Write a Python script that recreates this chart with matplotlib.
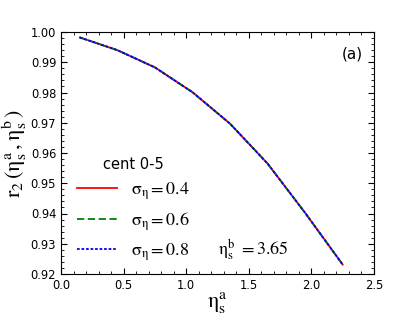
import matplotlib
matplotlib.use("Agg")
import matplotlib.pyplot as plt
from matplotlib.ticker import MultipleLocator

plt.rcParams['mathtext.fontset'] = 'stix'

# eta_s^a bins
eta_a = [0.15, 0.45, 0.75, 1.05, 1.35, 1.65, 1.95, 2.25]
# r2 for three sigma_eta values (curves overlap almost exactly)
r2_s04 = [0.9982, 0.9940, 0.9883, 0.9801, 0.9697, 0.9565, 0.9402, 0.9231]
r2_s06 = [0.9982, 0.9940, 0.9883, 0.9801, 0.9697, 0.9565, 0.9402, 0.9231]
r2_s08 = [0.9982, 0.9940, 0.9883, 0.9801, 0.9697, 0.9565, 0.9402, 0.9231]

fig = plt.figure(figsize=(4.15, 3.23), dpi=100)
ax = fig.add_axes([61/415, 1 - 274/323, (374-61)/415, (274-32)/323])

ax.plot(eta_a, r2_s04, color='red', lw=1.3, ls='-', label=r'$\mathrm{\sigma_{\eta}=0.4}$')
ax.plot(eta_a, r2_s06, color='green', lw=1.3, ls=(0, (4, 2)), label=r'$\mathrm{\sigma_{\eta}=0.6}$')
ax.plot(eta_a, r2_s08, color='blue', lw=1.3, ls=(0, (1.5, 1)), label=r'$\mathrm{\sigma_{\eta}=0.8}$')

ax.set_xlim(0, 2.5)
ax.set_ylim(0.92, 1.0)
ax.xaxis.set_major_locator(MultipleLocator(0.5))
ax.xaxis.set_minor_locator(MultipleLocator(0.1))
ax.yaxis.set_major_locator(MultipleLocator(0.01))
ax.yaxis.set_minor_locator(MultipleLocator(0.002))
ax.yaxis.set_major_formatter(matplotlib.ticker.FormatStrFormatter('%.2f'))
ax.xaxis.set_major_formatter(matplotlib.ticker.FormatStrFormatter('%.1f'))
ax.tick_params(which='both', direction='in', top=True, right=True, labelsize=8.3)
ax.tick_params(which='major', length=4)
ax.tick_params(which='minor', length=2)

ax.set_xlabel(r'$\mathrm{\eta_s^a}$', fontsize=16, labelpad=-1)
ax.set_ylabel(r'$\mathrm{r_2\,(\eta_s^a\,,\eta_s^b\,)}$', fontsize=16, labelpad=1)

leg = ax.legend(loc='lower left', bbox_to_anchor=(0.0, -0.02), frameon=False,
                fontsize=13, title='cent 0-5', title_fontsize=10.5,
                handlelength=2.2, labelspacing=0.45, handletextpad=0.8)

ax.text(0.50, 0.08, r'$\mathrm{\eta_s^b\ =3.65}$', transform=ax.transAxes, fontsize=13)
ax.text(0.965, 0.89, '(a)', transform=ax.transAxes, fontsize=11, ha='right')

fig.savefig('out.png', dpi=100)
